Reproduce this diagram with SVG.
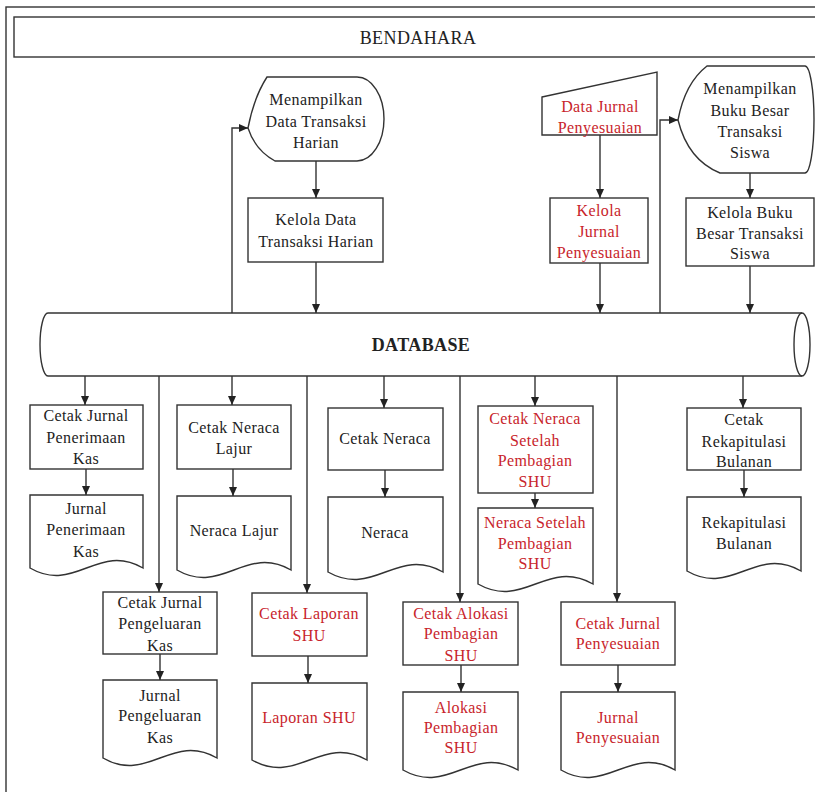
<svg xmlns="http://www.w3.org/2000/svg" width="815" height="792" viewBox="0 0 815 792">
<defs>
<marker id="ah" markerWidth="10" markerHeight="8" refX="9" refY="4" orient="auto" markerUnits="userSpaceOnUse">
<path d="M0,0 L9,4 L0,8 Z" fill="#222"/>
</marker>
<style>
.s{fill:#fff;stroke:#333;stroke-width:1.4}
.c{fill:none;stroke:#333;stroke-width:1.4}
.a{fill:none;stroke:#333;stroke-width:1.4;marker-end:url(#ah)}
.t text{font-size:16px;letter-spacing:0.4px;text-anchor:middle;dominant-baseline:central;fill:#222}
.t .r{fill:#c8242b}
.t .b{font-weight:bold;font-size:18px}
.t .h{font-size:18px}
</style>
</defs>
<rect x="6" y="7" width="830" height="800" fill="#fff" stroke="#333" stroke-width="1.4"/>
<g class="t" font-family="Liberation Serif, DejaVu Serif, Times New Roman, serif">
<g id="bendahara">
<rect class="s" x="14" y="17" width="815" height="40"/>
<text class="h" x="418" y="38">BENDAHARA</text>
</g>
<g id="database">
<path class="s" d="M48,313 L802,313 A8,31.5 0 0 1 802,376 L48,376 A8,31.5 0 0 1 48,313 Z"/>
<path class="c" d="M802,313 A8,31.5 0 0 0 802,376"/>
<text class="b" x="421" y="345">DATABASE</text>
</g>
<g id="tampil-harian">
<path class="s" d="M267,77 L357,77 A27,42 0 0 1 357,161 L275,161 Q255,150 248,128 Q254,97 267,77 Z"/>
<text x="316" y="99">Menampilkan</text>
<text x="316" y="121">Data Transaksi</text>
<text x="316" y="142">Harian</text>
</g>
<g id="kelola-harian">
<rect class="s" x="248" y="198" width="135" height="64"/>
<text x="316" y="219">Kelola Data</text>
<text x="316" y="241">Transaksi Harian</text>
</g>
<g id="data-jurnal">
<path class="s" d="M542,97 L657,72 L657,135 L542,135 Z"/>
<text class="r" x="600" y="106">Data Jurnal</text>
<text class="r" x="600" y="127">Penyesuaian</text>
</g>
<g id="kelola-jurnal">
<rect class="s" x="550" y="198" width="98" height="65"/>
<text class="r" x="599" y="210">Kelola</text>
<text class="r" x="599" y="231">Jurnal</text>
<text class="r" x="599" y="252">Penyesuaian</text>
</g>
<g id="tampil-buku">
<path class="s" d="M707,66 L805,66 A9,53.5 0 0 1 805,173 L720,173 Q688,160 678,120 Q685,83 707,66 Z"/>
<text x="750" y="88">Menampilkan</text>
<text x="750" y="110">Buku Besar</text>
<text x="750" y="131">Transaksi</text>
<text x="750" y="152">Siswa</text>
</g>
<g id="kelola-buku">
<rect class="s" x="686" y="198" width="128" height="68"/>
<text x="750" y="212">Kelola Buku</text>
<text x="750" y="233">Besar Transaksi</text>
<text x="750" y="253">Siswa</text>
</g>
<g id="cetak-penerimaan">
<rect class="s" x="30" y="405" width="113" height="64"/>
<text x="86" y="415">Cetak Jurnal</text>
<text x="86" y="437">Penerimaan</text>
<text x="86" y="458">Kas</text>
</g>
<g id="doc-penerimaan">
<path class="s" d="M30,495 L143,495 L143,568 C98,542 75,594 30,568 Z"/>
<text x="86" y="508">Jurnal</text>
<text x="86" y="529">Penerimaan</text>
<text x="86" y="551">Kas</text>
</g>
<g id="cetak-lajur">
<rect class="s" x="177" y="405" width="114" height="64"/>
<text x="234" y="427">Cetak Neraca</text>
<text x="234" y="448">Lajur</text>
</g>
<g id="doc-lajur">
<path class="s" d="M177,496 L291,496 L291,570 C246,544 222,596 177,570 Z"/>
<text x="234" y="530">Neraca Lajur</text>
</g>
<g id="cetak-neraca">
<rect class="s" x="328" y="408" width="115" height="62"/>
<text x="385" y="438">Cetak Neraca</text>
</g>
<g id="doc-neraca">
<path class="s" d="M328,497 L443,497 L443,572 C397,546 374,598 328,572 Z"/>
<text x="385" y="532">Neraca</text>
</g>
<g id="cetak-neraca-shu">
<rect class="s" x="478" y="406" width="115" height="87"/>
<text class="r" x="535" y="418">Cetak Neraca</text>
<text class="r" x="535" y="440">Setelah</text>
<text class="r" x="535" y="460">Pembagian</text>
<text class="r" x="535" y="481">SHU</text>
</g>
<g id="doc-neraca-shu">
<path class="s" d="M478,508 L593,508 L593,584 C547,558 524,610 478,584 Z"/>
<text class="r" x="535" y="522">Neraca Setelah</text>
<text class="r" x="535" y="543">Pembagian</text>
<text class="r" x="535" y="563">SHU</text>
</g>
<g id="cetak-rekap">
<rect class="s" x="687" y="408" width="114" height="62"/>
<text x="744" y="419">Cetak</text>
<text x="744" y="441">Rekapitulasi</text>
<text x="744" y="461">Bulanan</text>
</g>
<g id="doc-rekap">
<path class="s" d="M687,497 L801,497 L801,571 C756,545 732,597 687,571 Z"/>
<text x="744" y="522">Rekapitulasi</text>
<text x="744" y="543">Bulanan</text>
</g>
<g id="cetak-pengeluaran">
<rect class="s" x="103" y="592" width="114" height="62"/>
<text x="160" y="602">Cetak Jurnal</text>
<text x="160" y="623">Pengeluaran</text>
<text x="160" y="645">Kas</text>
</g>
<g id="doc-pengeluaran">
<path class="s" d="M103,680 L217,680 L217,758 C172,732 148,784 103,758 Z"/>
<text x="160" y="695">Jurnal</text>
<text x="160" y="715">Pengeluaran</text>
<text x="160" y="737">Kas</text>
</g>
<g id="cetak-laporan">
<rect class="s" x="252" y="593" width="115" height="63"/>
<text class="r" x="309" y="613">Cetak Laporan</text>
<text class="r" x="309" y="635">SHU</text>
</g>
<g id="doc-laporan">
<path class="s" d="M252,683 L367,683 L367,760 C321,734 298,786 252,760 Z"/>
<text class="r" x="309" y="717">Laporan SHU</text>
</g>
<g id="cetak-alokasi">
<rect class="s" x="403" y="602" width="115" height="63"/>
<text class="r" x="461" y="613">Cetak Alokasi</text>
<text class="r" x="461" y="633">Pembagian</text>
<text class="r" x="461" y="655">SHU</text>
</g>
<g id="doc-alokasi">
<path class="s" d="M403,692 L518,692 L518,770 C472,744 449,796 403,770 Z"/>
<text class="r" x="461" y="707">Alokasi</text>
<text class="r" x="461" y="727">Pembagian</text>
<text class="r" x="461" y="747">SHU</text>
</g>
<g id="cetak-penyesuaian">
<rect class="s" x="561" y="602" width="114" height="63"/>
<text class="r" x="618" y="623">Cetak Jurnal</text>
<text class="r" x="618" y="643">Penyesuaian</text>
</g>
<g id="doc-penyesuaian">
<path class="s" d="M561,692 L675,692 L675,770 C630,744 606,796 561,770 Z"/>
<text class="r" x="618" y="717">Jurnal</text>
<text class="r" x="618" y="737">Penyesuaian</text>
</g>
</g>
<g id="connectors">
<path class="a" d="M232,313 L232,128 L248,128"/>
<path class="a" d="M316,161 L316,198"/>
<path class="a" d="M316,262 L316,313"/>
<path class="a" d="M600,135 L600,198"/>
<path class="a" d="M600,263 L600,313"/>
<path class="a" d="M660,313 L660,120 L678,120"/>
<path class="a" d="M750,173 L750,198"/>
<path class="a" d="M750,266 L750,313"/>
<path class="a" d="M85,376 L85,405"/>
<path class="a" d="M159,376 L159,592"/>
<path class="a" d="M232,376 L232,405"/>
<path class="a" d="M307,376 L307,593"/>
<path class="a" d="M384,376 L384,408"/>
<path class="a" d="M460,376 L460,602"/>
<path class="a" d="M535,376 L535,406"/>
<path class="a" d="M617,376 L617,602"/>
<path class="a" d="M743,376 L743,408"/>
<path class="a" d="M86,469 L86,495"/>
<path class="a" d="M233,469 L233,496"/>
<path class="a" d="M385,470 L385,497"/>
<path class="a" d="M535,493 L535,508"/>
<path class="a" d="M744,470 L744,497"/>
<path class="a" d="M160,654 L160,680"/>
<path class="a" d="M308,656 L308,683"/>
<path class="a" d="M461,665 L461,692"/>
<path class="a" d="M618,665 L618,692"/>
</g>
</svg>
